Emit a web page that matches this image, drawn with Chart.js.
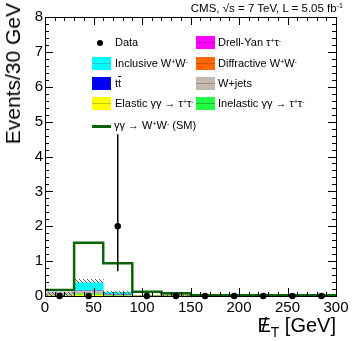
<!DOCTYPE html>
<html>
<head>
<meta charset="utf-8">
<script src="https://cdn.jsdelivr.net/npm/chart.js@4.4.1/dist/chart.umd.min.js"></script>
<style>
  html, body { margin: 0; padding: 0; background: #fff; }
  #wrap { position: relative; width: 354px; height: 341px; font-family: 'Liberation Sans', Arial, sans-serif; color: #000; }
  #chart { position: absolute; left: 0; top: 0; }
  .t { position: absolute; white-space: nowrap; line-height: 1; }
  .sp { font-size: 0.62em; position: relative; top: -0.5em; }
  .sb { font-size: 0.7em; position: relative; top: 0.35em; }
  .sw { position: absolute; width: 19px; height: 13px; }
  .sw i { position: absolute; left: 0; right: 0; top: 6px; height: 1px; }
  .leg { font-size: 11px; }
  .slash { position: relative; display: inline-block; }
  .slash b { position: absolute; left: 4px; top: 0; font-weight: normal; }
</style>
</head>
<body>
<div id="wrap">
  <canvas id="chart" width="354" height="341"></canvas>
  <div class="t" style="right:11px; top:3px; font-size:11.5px;">CMS, &radic;s = 7 TeV, L = 5.05 fb<span class="sp">-1</span></div>
  <div class="t" style="left:2px; top:3px; font-size:21px; transform-origin:0 0; transform:rotate(-90deg) translateX(-100%);">Events/30 GeV</div>
  <div class="t" style="right:18px; top:315px; font-size:20px;"><span class="slash">E<b>/</b></span><span class="sb">T</span> [GeV]</div>
  <div id="legend"></div>
</div>
<script>
// MET bins, 30 GeV wide
const binCenters = [15, 45, 75, 105, 135, 165, 195, 225, 255, 285];
const binEdges = [0, 30, 60, 90, 120, 150, 180, 210, 240, 270, 300];
const xTicks = [0, 50, 100, 150, 200, 250, 300];
const yTicks = [0, 1, 2, 3, 4, 5, 6, 7, 8];

// stacked backgrounds, bottom to top
const elasticTauTau   = [0, 0.03, 0, 0, 0, 0, 0, 0, 0, 0];
const inelasticTauTau = [0, 0.03, 0.01, 0, 0, 0, 0, 0, 0, 0];
const wJets           = [0.08, 0.08, 0.02, 0, 0.01, 0, 0, 0, 0, 0];
const ttbar           = [0, 0, 0, 0, 0, 0, 0, 0, 0, 0];
const drellYan        = [0, 0, 0, 0, 0, 0, 0, 0, 0, 0];
const diffractiveWW   = [0, 0, 0, 0.01, 0.02, 0, 0, 0, 0, 0];
const inclusiveWW     = [0, 0.24, 0.08, 0.01, 0, 0, 0, 0, 0, 0];

// hatched uncertainty band
const uncLow  = [0, 0.38, 0.06, null, 0, null, null, null, null, null];
const uncHigh = [0.1, 0.48, 0.13, null, 0.04, null, null, null, null, null];

// total with SM gamma gamma -> WW signal
const smTotal = [0.17, 1.53, 0.94, 0.12, 0.08, 0.02, 0.02, 0.02, 0.02, 0.02];

// data
const dataCounts = [0, 0, 2, 0, 0, 0, 0, 0, 0, 0];
const dataErrLow = [0, 0, 1.29, 0, 0, 0, 0, 0, 0, 0];
const dataErrHigh = [0, 0, 2.64, 0, 0, 0, 0, 0, 0, 0];

const bgSeries = [
  { name: 'Elastic γγ → τ<span class="sp">+</span>τ<span class="sp">-</span>', values: elasticTauTau, color: '#ffff00', line: '#c8c800' },
  { name: 'Inelastic γγ → τ<span class="sp">+</span>τ<span class="sp">-</span>', values: inelasticTauTau, color: '#22ff44', line: '#12c030' },
  { name: 'W+jets', values: wJets, color: '#c3b9ae', line: '#9a9088' },
  { name: 't<span style="text-decoration:overline">t</span>', values: ttbar, color: '#0000ff', line: '#0000c0' },
  { name: 'Drell-Yan τ<span class="sp">+</span>τ<span class="sp">-</span>', values: drellYan, color: '#ff00ff', line: '#c800c8' },
  { name: 'Diffractive W<span class="sp">+</span>W<span class="sp">-</span>', values: diffractiveWW, color: '#ff6600', line: '#cc5200' },
  { name: 'Inclusive W<span class="sp">+</span>W<span class="sp">-</span>', values: inclusiveWW, color: '#00ffff', line: '#20c8c8' }
];
const smColor = '#0a640a';

function series(vals) {
  return binCenters.map((x, i) => ({ x: x, y: vals[i] }));
}

const hatch = (function () {
  const c = document.createElement('canvas');
  c.width = 4; c.height = 4;
  const g = c.getContext('2d');
  g.strokeStyle = '#444';
  g.lineWidth = 0.9;
  g.beginPath();
  g.moveTo(0, 0); g.lineTo(4, 4);
  g.moveTo(-1, 3); g.lineTo(1, 5);
  g.moveTo(3, -1); g.lineTo(5, 1);
  g.stroke();
  return g.createPattern(c, 'repeat');
})();

const datasets = bgSeries.map(s => ({
  type: 'bar',
  data: series(s.values),
  backgroundColor: s.color,
  borderWidth: 0,
  stack: 'bg',
  order: 4,
  barPercentage: 1,
  categoryPercentage: 1
}));

datasets.push({
  type: 'bar',
  data: binCenters.map((x, i) => ({ x: x, y: uncLow[i] === null ? null : [uncLow[i], uncHigh[i]] })),
  backgroundColor: hatch,
  borderWidth: 0,
  stack: 'unc',
  grouped: false,
  order: 3,
  barPercentage: 1,
  categoryPercentage: 1
});

datasets.push({
  type: 'line',
  data: binEdges.map((x, i) => ({ x: x, y: smTotal[Math.min(i, smTotal.length - 1)] })),
  borderColor: smColor,
  borderWidth: 2.5,
  pointRadius: 0,
  stepped: 'before',
  fill: false,
  stack: 'sm',
  order: 2
});

datasets.push({
  type: 'scatter',
  data: series(dataCounts),
  backgroundColor: '#000',
  borderColor: '#000',
  pointRadius: 3.2,
  borderWidth: 0,
  stack: 'data',
  clip: false,
  order: 1
});

const errorBars = {
  id: 'errorBars',
  afterDatasetsDraw(chart) {
    const meta = chart.getDatasetMeta(chart.data.datasets.length - 1);
    const y = chart.scales.y;
    const ctx = chart.ctx;
    ctx.save();
    ctx.strokeStyle = '#000';
    ctx.lineWidth = 1.5;
    meta.data.forEach((pt, i) => {
      if (!dataErrLow[i] && !dataErrHigh[i]) return;
      ctx.beginPath();
      ctx.moveTo(pt.x, y.getPixelForValue(dataCounts[i] - dataErrLow[i]));
      ctx.lineTo(pt.x, y.getPixelForValue(dataCounts[i] + dataErrHigh[i]));
      ctx.stroke();
    });
    ctx.restore();
  }
};

const frame = {
  id: 'frame',
  afterDraw(chart) {
    const { ctx, chartArea: a, scales: { x, y } } = chart;
    ctx.save();
    ctx.strokeStyle = '#000';
    ctx.lineWidth = 1;
    ctx.beginPath();
    for (let k = 0; k <= 40; k++) {
      const v = k * 0.2;
      const py = Math.round(y.getPixelForValue(v)) + 0.5;
      const len = k % 5 === 0 ? 8 : 4;
      ctx.moveTo(a.left, py); ctx.lineTo(a.left + len, py);
      ctx.moveTo(a.right, py); ctx.lineTo(a.right - len, py);
    }
    for (let k = 0; k <= 30; k++) {
      const v = k * 10;
      const px = Math.round(x.getPixelForValue(v)) + 0.5;
      const len = k % 5 === 0 ? 8 : 4;
      ctx.moveTo(px, a.bottom); ctx.lineTo(px, a.bottom - len);
      ctx.moveTo(px, a.top); ctx.lineTo(px, a.top + len);
    }
    ctx.stroke();
    ctx.strokeRect(Math.round(a.left) + 0.5, Math.round(a.top) + 0.5,
      Math.round(a.right - a.left), Math.round(a.bottom - a.top));
    ctx.restore();
  }
};

const tickFont = { family: "'Liberation Sans', Arial, sans-serif", size: 15 };

new Chart(document.getElementById('chart').getContext('2d'), {
  type: 'bar',
  data: { datasets: datasets },
  options: {
    responsive: false,
    animation: false,
    devicePixelRatio: 1,
    events: [],
    layout: { padding: { top: 17, right: 18, left: 0, bottom: 0 } },
    plugins: { legend: { display: false }, tooltip: { enabled: false } },
    scales: {
      x: {
        type: 'linear',
        min: 0, max: 300,
        offset: false,
        grid: { display: false, drawTicks: false },
        border: { display: false },
        afterBuildTicks: s => { s.ticks = xTicks.map(v => ({ value: v })); },
        ticks: { font: tickFont, color: '#000', padding: 3, maxRotation: 0, autoSkip: false },
        afterFit: s => { s.height = 45; }
      },
      y: {
        min: 0, max: 8,
        stacked: true,
        grid: { display: false, drawTicks: false },
        border: { display: false },
        afterBuildTicks: s => { s.ticks = yTicks.map(v => ({ value: v })); },
        ticks: { font: tickFont, color: '#000', padding: 2 },
        afterFit: s => { s.width = 45; }
      }
    }
  },
  plugins: [errorBars, frame]
});

// legend, two columns like the ROOT TLegend
const legend = document.getElementById('legend');
const rows = [43, 64, 84, 104];
const leftCol = [null, bgSeries[6], bgSeries[3], bgSeries[0]];
const rightCol = [bgSeries[4], bgSeries[5], bgSeries[2], bgSeries[1]];
let html = '';
html += '<div style="position:absolute;left:97px;top:' + (rows[0] - 3) + 'px;width:6px;height:6px;border-radius:3px;background:#000"></div>';
html += '<div class="t leg" style="left:115px;top:' + (rows[0] - 6) + 'px">Data</div>';
function item(s, sx, tx, y) {
  return '<div class="sw" style="left:' + sx + 'px;top:' + (y - 7) + 'px;background:' + s.color + '"><i style="background:' + s.line + '"></i></div>' +
    '<div class="t leg" style="left:' + tx + 'px;top:' + (y - 6) + 'px">' + s.name + '</div>';
}
rows.forEach((y, i) => {
  if (leftCol[i]) html += item(leftCol[i], 92, 115, y);
  html += item(rightCol[i], 196, 218, y);
});
html += '<div style="position:absolute;left:92px;top:125px;width:19px;height:3px;background:' + smColor + '"></div>';
html += '<div class="t leg" style="left:114px;top:120px">γγ → W<span class="sp">+</span>W<span class="sp">-</span> (SM)</div>';
legend.innerHTML = html;
</script>
</body>
</html>
